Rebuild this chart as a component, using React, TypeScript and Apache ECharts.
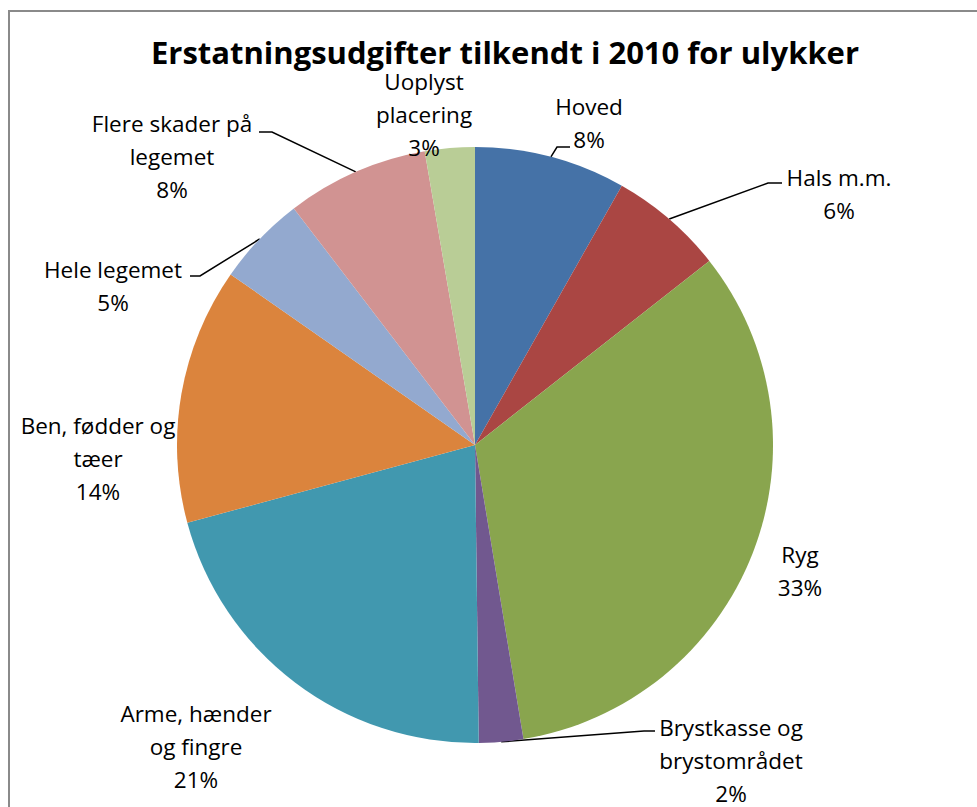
import React, { useEffect, useRef } from "react";
import * as echarts from "echarts";

const TITLE = "Erstatningsudgifter tilkendt i 2010 for ulykker";

const categories = [
  "Hoved",
  "Hals m.m.",
  "Ryg",
  "Brystkasse og\nbrystområdet",
  "Arme, hænder\nog fingre",
  "Ben, fødder og\ntæer",
  "Hele legemet",
  "Flere skader på\nlegemet",
  "Uoplyst\nplacering",
];

const values = [8.2, 6.2, 33.0, 2.4, 21.0, 13.9, 4.9, 7.7, 2.7];

const colors = [
  "#4572A7",
  "#AA4643",
  "#89A54E",
  "#71588F",
  "#4198AF",
  "#DB843D",
  "#93A9CF",
  "#D19392",
  "#B9CD96",
];

// label block centres and leader elbows (layout only)
const labelPos: [number, number][] = [
  [589, 123],
  [839, 194],
  [800, 571],
  [731, 760],
  [196, 746],
  [98, 458],
  [113, 286],
  [172, 156],
  [424, 114],
];

const leaderElbows: ([number, number][] | null)[] = [
  [[557, 147], [570, 147]],
  [[768, 183], [782, 183]],
  null,
  [[644, 731], [655, 731]],
  null,
  null,
  [[200, 276], [190, 276]],
  [[272, 132], [259, 132]],
  null,
];

export default function App() {
  const ref = useRef<HTMLDivElement>(null);
  useEffect(() => {
    if (!ref.current) return;
    const chart = echarts.init(ref.current, null, { renderer: "svg" });
    const font = "'Open Sans', 'Noto Sans', sans-serif";
    chart.setOption({
      animation: false,
      backgroundColor: "#ffffff",
      title: {
        text: TITLE,
        left: 500,
        top: 31,
        textAlign: "center",
        textStyle: {
          fontFamily: font,
          fontWeight: "bold",
          fontSize: 31,
          color: "#000000",
        },
      },
      graphic: [
        {
          type: "rect",
          shape: { x: 9, y: 11, width: 1000, height: 900 },
          style: { fill: "none", stroke: "#8a8a8a", lineWidth: 2 },
          silent: true,
        },
      ],
      series: [
        {
          type: "pie",
          center: [475, 445],
          radius: 298,
          startAngle: 90,
          clockwise: true,
          avoidLabelOverlap: false,
          color: colors,
          itemStyle: { borderWidth: 0 },
          label: {
            show: true,
            position: "outside",
            fontFamily: font,
            fontSize: 22.5,
            lineHeight: 33,
            color: "#000000",
            align: "center",
            formatter: (p: any) => `${p.name}\n${Math.round(p.percent)}%`,
          },
          labelLine: {
            show: true,
            length: 10,
            length2: 10,
            lineStyle: { color: "#000000", width: 1.5 },
          },
          labelLayout: (p: any) => {
            const i = p.dataIndex;
            const [x, y] = labelPos[i];
            const res: any = { x, y, align: "center", verticalAlign: "middle" };
            const elb = leaderElbows[i];
            if (elb && p.labelLinePoints) {
              res.labelLinePoints = [p.labelLinePoints[0], elb[0], elb[1]];
            }
            return res;
          },
          data: categories.map((name, i) => ({
            name,
            value: values[i],
            labelLine: { show: leaderElbows[i] !== null },
          })),
        },
      ],
    });
    return () => chart.dispose();
  }, []);
  return (
    <div
      ref={ref}
      style={{ position: "fixed", left: 0, top: 0, width: 977, height: 807 }}
    />
  );
}
